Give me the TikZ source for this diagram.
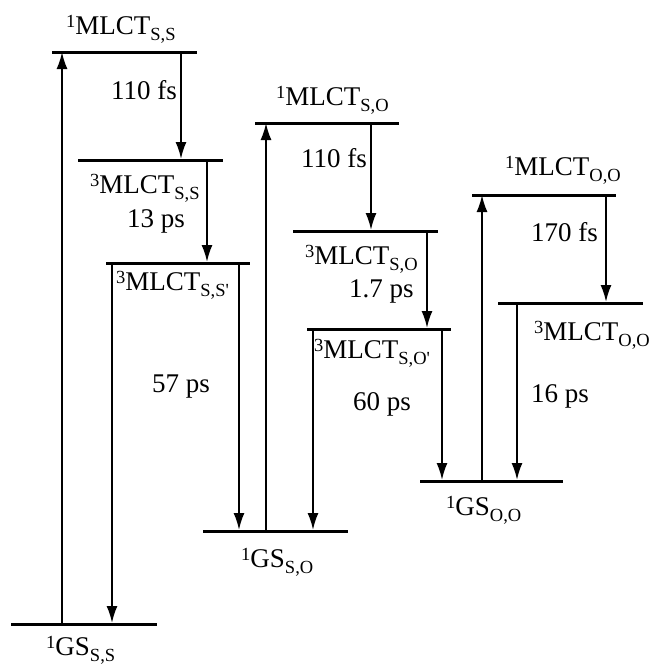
\documentclass[tikz,border=0pt]{standalone}
\usepackage{fontspec}
\setmainfont{Liberation Serif}
\usetikzlibrary{arrows.meta}
\newcommand{\st}[3]{\raisebox{7pt}{\fontsize{18.5}{18.5}\selectfont #1}#2\raisebox{-6pt}{\fontsize{18.5}{18.5}\selectfont #3}}
\begin{document}
\begin{tikzpicture}[x=1pt,y=-1pt,
  lvl/.style={line width=3pt},
  arr/.style={line width=2pt,-{Latex[length=17pt,width=11pt]}},
  lab/.style={anchor=base west,inner sep=0pt,font=\fontsize{27}{27}\selectfont}]
\useasboundingbox (0,0) rectangle (654,667);
% levels
\coordinate (L1a) at (52,52);   \coordinate (L1b) at (197,52);
\coordinate (L2a) at (78,160);  \coordinate (L2b) at (223,160);
\coordinate (L3a) at (106,263); \coordinate (L3b) at (250,263);
\coordinate (L4a) at (11,624);  \coordinate (L4b) at (157,624);
\coordinate (L5a) at (255,123); \coordinate (L5b) at (399,123);
\coordinate (L6a) at (293,231); \coordinate (L6b) at (438,231);
\coordinate (L7a) at (307,329); \coordinate (L7b) at (451,329);
\coordinate (L8a) at (203,531); \coordinate (L8b) at (348,531);
\coordinate (L9a) at (472,195); \coordinate (L9b) at (616,195);
\coordinate (L10a) at (498,303); \coordinate (L10b) at (643,303);
\coordinate (L11a) at (420,481); \coordinate (L11b) at (563,481);
\foreach \i in {1,...,11} \draw[lvl] (L\i a) -- (L\i b);
% arrow end points
\coordinate (A1s) at (62,624);  \coordinate (A1e) at (62,52);
\coordinate (A2s) at (181,52);  \coordinate (A2e) at (181,159);
\coordinate (A3s) at (207,160); \coordinate (A3e) at (207,262);
\coordinate (A4s) at (112,263); \coordinate (A4e) at (112,623);
\coordinate (A5s) at (239,263); \coordinate (A5e) at (239,530);
\coordinate (A6s) at (266,531); \coordinate (A6e) at (266,123);
\coordinate (A7s) at (371,123); \coordinate (A7e) at (371,230);
\coordinate (A8s) at (427,231); \coordinate (A8e) at (427,328);
\coordinate (A9s) at (313,329); \coordinate (A9e) at (313,530);
\coordinate (A10s) at (442,329); \coordinate (A10e) at (442,480);
\coordinate (A11s) at (482,481); \coordinate (A11e) at (482,195);
\coordinate (A12s) at (606,195); \coordinate (A12e) at (606,302);
\coordinate (A13s) at (517,303); \coordinate (A13e) at (517,480);
\foreach \i in {1,...,13} \draw[arr] (A\i s) -- (A\i e);
% labels
\node[lab] (t1) at (66,34) {\st{1}{MLCT}{S,S}};
\node[lab] (r1) at (111,99) {110 fs};
\node[lab] (t2) at (90,193) {\st{3}{MLCT}{S,S}};
\node[lab] (r2) at (127,227) {13 ps};
\node[lab] (t3) at (116,290) {\st{3}{MLCT}{S,S\textquotesingle}};
\node[lab] (r3) at (152,392) {57 ps};
\node[lab] (t4) at (46,655) {\st{1}{GS}{S,S}};
\node[lab] (t5) at (276,105) {\st{1}{MLCT}{S,O}};
\node[lab] (r5) at (301,167) {110 fs};
\node[lab] (t6) at (305,264) {\st{3}{MLCT}{S,O}};
\node[lab] (r6) at (349,297) {1.7 ps};
\node[lab] (t7) at (314,358) {\st{3}{MLCT}{S,O\textquotesingle}};
\node[lab] (r7) at (353,410) {60 ps};
\node[lab] (t8) at (241,567) {\st{1}{GS}{S,O}};
\node[lab] (t9) at (505,175) {\st{1}{MLCT}{O,O}};
\node[lab] (r9) at (531,241) {170 fs};
\node[lab] (t10) at (534,340) {\st{3}{MLCT}{O,O}};
\node[lab] (r10) at (531,402) {16 ps};
\node[lab] (t11) at (446,515) {\st{1}{GS}{O,O}};
\end{tikzpicture}
\end{document}
